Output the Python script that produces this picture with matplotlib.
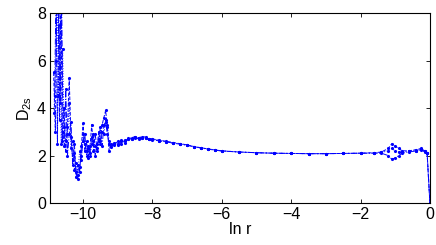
import matplotlib
matplotlib.use("Agg")
import matplotlib.pyplot as plt

plt.rcParams['font.family'] = ['Liberation Sans', 'DejaVu Sans']
plt.rcParams['mathtext.fontset'] = 'custom'
plt.rcParams['mathtext.rm'] = 'Liberation Sans'
plt.rcParams['mathtext.it'] = 'Liberation Sans'

# three estimates of D2s versus ln r
xa = [-10.85, -10.8, -10.76, -10.72, -10.68, -10.64, -10.6, -10.55, -10.5, -10.45,
      -10.4, -10.35, -10.3, -10.25, -10.2, -10.15, -10.1, -10.05, -10.0, -9.95,
      -9.9, -9.85, -9.8, -9.75, -9.7, -9.65, -9.6, -9.55, -9.5, -9.45,
      -9.4, -9.35, -9.3, -9.25, -9.2, -9.1, -9.0, -8.9, -8.8, -8.7,
      -8.6, -8.5, -8.4, -8.3, -8.2, -8.1, -8.0, -7.8, -7.6, -7.4,
      -7.2, -7.0, -6.8, -6.6, -6.4, -6.2, -6.0, -5.5, -5.0, -4.5,
      -4.0, -3.5, -3.0, -2.5, -2.0, -1.6, -1.4, -1.2, -1.1, -1.0,
      -0.9, -0.8, -0.6, -0.4, -0.25, -0.15, -0.08, 0.0]
ya = [5.5, 3.0, 8.5, 9.0, 3.5, 9.0, 2.6, 4.0, 2.2, 3.2,
      5.25, 2.8, 1.8, 2.5, 1.1, 1.6, 1.3, 2.4, 3.35, 2.2,
      2.6, 1.9, 2.4, 3.3, 2.2, 2.9, 2.3, 3.0, 2.6, 3.3,
      3.6, 3.9, 3.2, 2.2, 2.5, 2.45, 2.6, 2.5, 2.65, 2.7,
      2.75, 2.8, 2.75, 2.8, 2.78, 2.7, 2.7, 2.65, 2.6, 2.55,
      2.5, 2.45, 2.38, 2.33, 2.28, 2.24, 2.2, 2.15, 2.12, 2.1,
      2.09, 2.08, 2.08, 2.09, 2.1, 2.12, 2.15, 2.3, 2.5, 2.4,
      2.3, 2.2, 2.2, 2.25, 2.3, 2.2, 2.1, 0.0]

xb = [-10.82, -10.78, -10.74, -10.7, -10.66, -10.62, -10.58, -10.54, -10.5, -10.45,
      -10.4, -10.35, -10.3, -10.25, -10.2, -10.15, -10.1, -10.05, -10.0, -9.95,
      -9.9, -9.85, -9.8, -9.75, -9.7, -9.65, -9.6, -9.55, -9.5, -9.45,
      -9.4, -9.35, -9.3, -9.25, -9.2, -9.1, -9.0, -8.9, -8.8, -8.7,
      -8.6, -8.5, -8.4, -8.3, -8.2, -8.1, -8.0, -7.8, -7.6, -7.4,
      -7.2, -7.0, -6.8, -6.6, -6.4, -6.2, -6.0, -5.5, -5.0, -4.5,
      -4.0, -3.5, -3.0, -2.5, -2.0, -1.6, -1.4, -1.2, -1.1, -1.0,
      -0.9, -0.8, -0.6, -0.4, -0.25, -0.15, -0.08, 0.0]
yb = [4.5, 9.0, 2.5, 8.5, 4.2, 9.0, 3.0, 2.4, 4.8, 2.0,
      2.9, 3.4, 1.6, 2.1, 1.3, 1.0, 1.5, 2.0, 2.6, 2.9,
      2.0, 2.3, 2.1, 2.8, 2.6, 2.0, 2.5, 2.7, 3.2, 2.4,
      3.3, 3.4, 2.9, 2.5, 2.35, 2.5, 2.45, 2.6, 2.6, 2.7,
      2.7, 2.75, 2.7, 2.75, 2.72, 2.68, 2.66, 2.62, 2.58, 2.52,
      2.48, 2.43, 2.37, 2.32, 2.27, 2.23, 2.19, 2.15, 2.12, 2.1,
      2.09, 2.08, 2.08, 2.09, 2.1, 2.1, 2.1, 2.0, 1.85, 1.9,
      2.0, 2.1, 2.15, 2.2, 2.25, 2.15, 2.1, 0.0]

xc = [-10.84, -10.79, -10.75, -10.71, -10.67, -10.63, -10.59, -10.55, -10.5, -10.45,
      -10.4, -10.35, -10.3, -10.25, -10.2, -10.15, -10.1, -10.05, -10.0, -9.95,
      -9.9, -9.85, -9.8, -9.75, -9.7, -9.65, -9.6, -9.55, -9.5, -9.45,
      -9.4, -9.35, -9.3, -9.25, -9.2, -9.1, -9.0, -8.9, -8.8, -8.7,
      -8.6, -8.5, -8.4, -8.3, -8.2, -8.1, -8.0, -7.8, -7.6, -7.4,
      -7.2, -7.0, -6.8, -6.6, -6.4, -6.2, -6.0, -5.5, -5.0, -4.5,
      -4.0, -3.5, -3.0, -2.5, -2.0, -1.6, -1.4, -1.2, -1.1, -1.0,
      -0.9, -0.8, -0.6, -0.4, -0.25, -0.15, -0.08, 0.0]
yc = [3.8, 6.0, 9.0, 4.5, 7.5, 2.5, 6.5, 3.2, 2.6, 2.9,
      4.2, 2.3, 2.6, 1.4, 1.7, 1.2, 2.2, 1.8, 2.9, 2.5,
      2.2, 2.4, 2.0, 2.5, 2.9, 2.4, 2.2, 2.6, 2.5, 3.0,
      2.9, 3.5, 3.3, 2.6, 2.45, 2.55, 2.5, 2.65, 2.55, 2.72,
      2.7, 2.78, 2.72, 2.76, 2.74, 2.7, 2.68, 2.63, 2.57, 2.53,
      2.49, 2.44, 2.38, 2.32, 2.28, 2.24, 2.2, 2.15, 2.12, 2.1,
      2.09, 2.08, 2.08, 2.09, 2.1, 2.11, 2.13, 2.2, 2.3, 2.2,
      2.15, 2.15, 2.18, 2.2, 2.27, 2.2, 2.1, 0.0]

fig = plt.figure(figsize=(4.36, 2.45), dpi=100)
ax = fig.add_axes([0.115, 0.171, 0.871, 0.776])

ax.plot(xa, ya, color='blue', linestyle='--', marker='.', markersize=2.5, linewidth=0.7)
ax.plot(xb, yb, color='blue', linestyle='-.', marker='.', markersize=2.5, linewidth=0.7)
ax.plot(xc, yc, color='blue', linestyle=':', marker='.', markersize=2.5, linewidth=0.7)

ax.set_xlim(-10.95, 0)
ax.set_ylim(0, 8)
ax.set_xticks([-10, -8, -6, -4, -2, 0])
ax.set_yticks([0, 2, 4, 6, 8])
ax.set_xticklabels(['\u221210', '\u22128', '\u22126', '\u22124', '\u22122', '0'])
ax.tick_params(direction='in', top=True, right=True, labelsize=11.5, length=3, width=0.6, pad=3)
for s in ax.spines.values():
    s.set_linewidth(0.8)

ax.set_xlabel('ln r', fontsize=11.5, labelpad=0)
ax.set_ylabel(r'$\mathregular{D_{2s}}$', fontsize=11.5, labelpad=2)

fig.savefig('out.png', dpi=100)
